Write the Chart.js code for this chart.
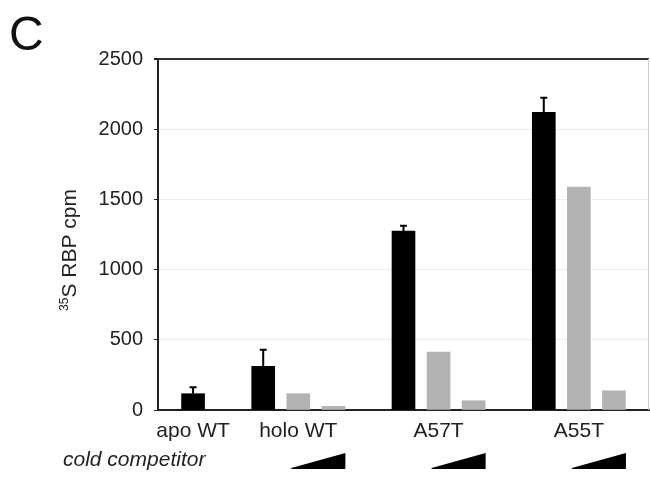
<!DOCTYPE html>
<html>
<head>
<meta charset="utf-8">
<script src="https://cdn.jsdelivr.net/npm/chart.js@4.4.0/dist/chart.umd.min.js"></script>
<style>
  html, body { margin: 0; padding: 0; background: #fff; }
  #chart { display: block; }
</style>
</head>
<body>
<canvas id="chart" width="650" height="478"></canvas>
<script>
// values
const groups = ['apo WT', 'holo WT', 'A57T', 'A55T'];
const noCompetitor = [116, 311, 1275, 2120];
const noCompetitorErr = [46, 119, 38, 104];
const lowCompetitor = [null, 116, 413, 1588];
const highCompetitor = [null, 26, 66, 137];
const yTicks = [0, 500, 1000, 1500, 2000, 2500];

var FONT = "'Liberation Sans', Arial, Helvetica, sans-serif";

// slot positions on the x scale: one empty slot before every group
var slot = 0;
var noPts = [], lowPts = [], highPts = [], groupCenters = [];
groups.forEach(function(g, i) {
    slot += 1;
    var first = slot;
    noPts.push({ x: slot, y: noCompetitor[i] });
    slot += 1;
    if (lowCompetitor[i] !== null) {
        lowPts.push({ x: slot, y: lowCompetitor[i] });
        slot += 1;
    }
    if (highCompetitor[i] !== null) {
        highPts.push({ x: slot, y: highCompetitor[i] });
        slot += 1;
    }
    groupCenters.push((first + slot - 1) / 2);
});
var lastSlot = slot;

// error bars, group labels, wedges, panel letter, axis title
var extras = {
    id: 'extras',
    afterDatasetsDraw: function(chart) {
        var ctx = chart.ctx;
        var xs = chart.scales.x, ys = chart.scales.y;
        ctx.save();

        // error bars (upward only)
        ctx.strokeStyle = '#000';
        ctx.lineWidth = 2;
        noPts.forEach(function(p, i) {
            var px = xs.getPixelForValue(p.x);
            var top = ys.getPixelForValue(p.y + noCompetitorErr[i]);
            var base = ys.getPixelForValue(p.y);
            ctx.beginPath();
            ctx.moveTo(px, base);
            ctx.lineTo(px, top);
            ctx.moveTo(px - 3.5, top);
            ctx.lineTo(px + 3.5, top);
            ctx.stroke();
        });

        // right frame line
        ctx.strokeStyle = '#d0d0d0';
        ctx.lineWidth = 1;
        ctx.beginPath();
        ctx.moveTo(chart.chartArea.right - 0.5, chart.chartArea.top);
        ctx.lineTo(chart.chartArea.right - 0.5, chart.chartArea.bottom);
        ctx.stroke();

        // group labels
        ctx.fillStyle = '#222';
        ctx.font = '21px ' + FONT;
        ctx.textAlign = 'center';
        ctx.textBaseline = 'alphabetic';
        groups.forEach(function(g, i) {
            ctx.fillText(g, xs.getPixelForValue(groupCenters[i]), 437);
        });

        // cold competitor wedges
        ctx.fillStyle = '#000';
        lowPts.forEach(function(p, i) {
            var x0 = xs.getPixelForValue(p.x) - 7;
            var x1 = xs.getPixelForValue(highPts[i].x) + 12;
            ctx.beginPath();
            ctx.moveTo(x0, 468);
            ctx.lineTo(x1, 453);
            ctx.lineTo(x1, 469);
            ctx.lineTo(x0, 469);
            ctx.closePath();
            ctx.fill();
        });

        ctx.fillStyle = '#222';
        ctx.textAlign = 'left';
        ctx.font = 'italic 21px ' + FONT;
        ctx.fillText('cold competitor', 63, 466);

        // panel letter
        ctx.font = '48px ' + FONT;
        ctx.fillStyle = '#111';
        ctx.fillText('C', 9, 50);

        // y axis title with superscript
        ctx.translate(76, 250);
        ctx.rotate(-Math.PI / 2);
        ctx.fillStyle = '#222';
        var sup = '35';
        var main = 'S RBP cpm';
        ctx.font = '21px ' + FONT;
        var wMain = ctx.measureText(main).width;
        ctx.font = '12px ' + FONT;
        var wSup = ctx.measureText(sup).width;
        var start = -(wMain + wSup) / 2;
        ctx.fillText(sup, start, -8);
        ctx.font = '21px ' + FONT;
        ctx.fillText(main, start + wSup, 0);

        ctx.restore();
    }
};

var ctx = document.getElementById('chart').getContext('2d');
var myChart = new Chart(ctx, {
    type: 'bar',
    data: {
        datasets: [{
            label: 'no competitor',
            data: noPts,
            backgroundColor: '#000',
            borderWidth: 0
        }, {
            label: 'low competitor',
            data: lowPts,
            backgroundColor: '#b3b3b3',
            borderWidth: 0
        }, {
            label: 'high competitor',
            data: highPts,
            backgroundColor: '#b3b3b3',
            borderWidth: 0
        }]
    },
    options: {
        responsive: false,
        devicePixelRatio: 1,
        animation: false,
        grouped: false,
        barThickness: 23,
        layout: { padding: { top: 59, right: 1, bottom: 0, left: 0 } },
        plugins: {
            legend: { display: false },
            tooltip: { enabled: false }
        },
        scales: {
            x: {
                type: 'linear',
                offset: false,
                min: 0,
                max: lastSlot,
                ticks: { display: false },
                grid: { display: false },
                border: { display: true, color: '#222', width: 2 },
                afterFit: function(s) { s.height = 68; }
            },
            y: {
                min: yTicks[0],
                max: yTicks[yTicks.length - 1],
                afterBuildTicks: function(s) {
                    s.ticks = yTicks.map(function(v) { return { value: v }; });
                },
                ticks: {
                    color: '#222',
                    padding: 11,
                    font: { family: FONT, size: 20 },
                    callback: function(v) { return String(v); }
                },
                grid: {
                    color: function(c) {
                        return c.tick && c.tick.value === yTicks[yTicks.length - 1] ? '#333' : '#eeeeee';
                    },
                    lineWidth: function(c) {
                        return c.tick && c.tick.value === yTicks[yTicks.length - 1] ? 2 : 1;
                    },
                    tickColor: '#222',
                    tickLength: 4,
                    drawTicks: true
                },
                border: { display: true, color: '#222', width: 2 },
                afterFit: function(s) { s.width = 158; }
            }
        }
    },
    plugins: [extras]
});
</script>
</body>
</html>
